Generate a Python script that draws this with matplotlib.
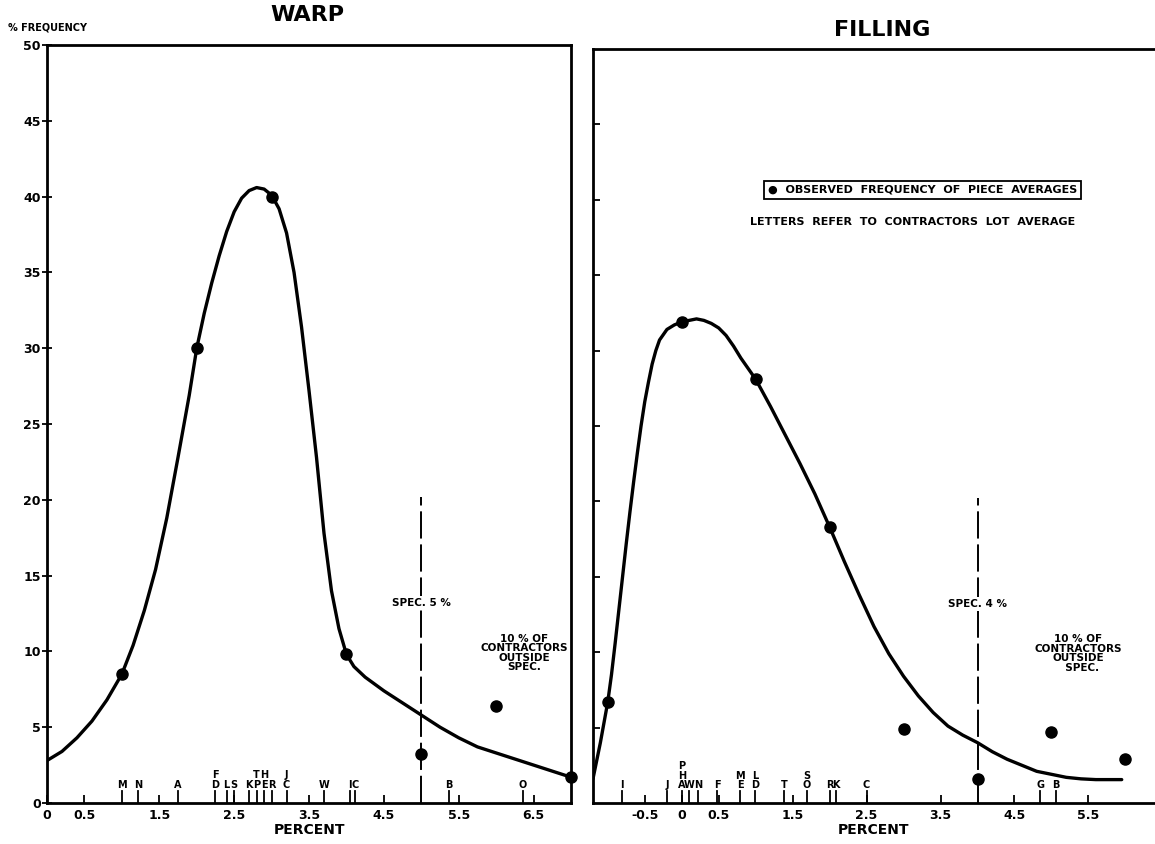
import matplotlib
matplotlib.use("Agg")
import matplotlib.pyplot as plt

# observed frequency of piece averages (dots)
warp_x = [1, 2, 3, 4, 5, 6, 7]
warp_freq = [8.5, 30.0, 40.0, 9.8, 3.2, 6.4, 1.7]
fill_x = [-1, 0, 1, 2, 3, 4, 5, 6]
fill_freq = [6.7, 31.9, 28.1, 18.3, 4.9, 1.6, 4.7, 2.9]

# hand-drawn fitted curves
warp_curve_x = [0, 0.2, 0.4, 0.6, 0.8, 1.0, 1.15, 1.3, 1.45, 1.6, 1.75, 1.9, 2.0, 2.1,
                2.2, 2.3, 2.4, 2.5, 2.6, 2.7, 2.8, 2.9, 3.0, 3.1, 3.2, 3.3, 3.4, 3.5,
                3.6, 3.7, 3.8, 3.9, 4.0, 4.1, 4.25, 4.5, 4.75, 5.0, 5.25, 5.5, 5.75,
                6.0, 6.25, 6.5, 6.75, 7.0]
warp_curve_y = [2.8, 3.4, 4.3, 5.4, 6.8, 8.5, 10.4, 12.7, 15.4, 18.8, 22.8, 26.9, 30.0, 32.3,
                34.3, 36.1, 37.7, 39.0, 39.9, 40.4, 40.6, 40.5, 40.1, 39.2, 37.6, 35.0, 31.4, 27.2,
                22.8, 17.8, 14.0, 11.5, 9.8, 9.0, 8.3, 7.4, 6.6, 5.8, 5.0, 4.3, 3.7,
                3.3, 2.9, 2.5, 2.1, 1.7]
fill_curve_x = [-1.2, -1.1, -1.0, -0.95, -0.9, -0.85, -0.8, -0.75, -0.7, -0.65, -0.6,
                -0.55, -0.5, -0.45, -0.4, -0.35, -0.3, -0.2, -0.1, 0.0, 0.1, 0.2, 0.3,
                0.4, 0.5, 0.6, 0.7, 0.8, 0.9, 1.0, 1.1, 1.2, 1.4, 1.6, 1.8, 2.0, 2.2,
                2.4, 2.6, 2.8, 3.0, 3.2, 3.4, 3.6, 3.8, 4.0, 4.2, 4.4, 4.6, 4.8, 5.0,
                5.2, 5.4, 5.6, 5.8, 5.95]
fill_curve_y = [1.6, 4.0, 6.7, 8.5, 10.6, 12.8, 15.0, 17.2, 19.3, 21.3, 23.2,
                25.0, 26.6, 27.9, 29.1, 30.0, 30.7, 31.4, 31.7, 31.9, 32.0, 32.1, 32.0,
                31.8, 31.5, 31.0, 30.3, 29.5, 28.8, 28.1, 27.2, 26.3, 24.4, 22.5, 20.5, 18.3, 16.0,
                13.8, 11.7, 9.9, 8.4, 7.1, 6.0, 5.1, 4.5, 4.0, 3.4, 2.9, 2.5, 2.1, 1.9,
                1.7, 1.6, 1.55, 1.55, 1.55]

# contractors lot averages (letters)
warp_lots = ["M", "N", "A", "F\nD", "L", "S", "K", "T\nP", "H\nE", "R", "J\nC",
             "W", "I", "C", "B", "O"]
warp_lot_x = [1.0, 1.22, 1.75, 2.25, 2.4, 2.5, 2.7, 2.8, 2.9, 3.0, 3.2,
              3.7, 4.05, 4.12, 5.37, 6.36]
fill_lots = ["I", "J", "P\nH\nA", "W", "N", "F", "M\nE", "L\nD", "T", "S\nO", "R", "K",
             "C", "G", "B"]
fill_lot_x = [-0.81, -0.2, 0.0, 0.1, 0.22, 0.48, 0.79, 0.99, 1.38, 1.69, 2.0, 2.08,
              2.5, 4.85, 5.06]

warp_ticks = [0, 0.5, 1.5, 2.5, 3.5, 4.5, 5.5, 6.5]
warp_ticklabels = ["0", "0.5", "1.5", "2.5", "3.5", "4.5", "5.5", "6.5"]
fill_ticks = [-0.5, 0, 0.5, 1.5, 2.5, 3.5, 4.5, 5.5]
fill_ticklabels = ["-0.5", "0", "0.5", "1.5", "2.5", "3.5", "4.5", "5.5"]
yticks = [0, 5, 10, 15, 20, 25, 30, 35, 40, 45, 50]

fig = plt.figure(figsize=(11.55, 8.44), dpi=100)
ax1 = fig.add_axes([0.0407, 0.0486, 0.4537, 0.898])
ax2 = fig.add_axes([0.5134, 0.0486, 0.4866, 0.8934])


def draw_panel(ax, cx, cy, px, py, lots, lot_x, spec, xlim):
    ax.plot(cx, cy, color="black", lw=2.4, solid_capstyle="round", solid_joinstyle="round")
    ax.plot(px, py, "o", color="black", ms=8, clip_on=False, zorder=5)
    for lab, x in zip(lots, lot_x):
        ax.plot([x, x], [0, 0.8], color="black", lw=1.3)
        ax.text(x, 0.85, lab, ha="center", va="bottom", fontsize=7, fontweight="bold",
                linespacing=0.95)
    ax.plot([spec, spec], [0, 20.2], color="black", lw=1.4, ls=(0, (14, 3)))
    ax.text(spec, 13.2, "SPEC. %d %%" % (spec,), ha="center", va="center", fontsize=7.5,
            fontweight="bold",
            bbox=dict(facecolor="white", edgecolor="none", pad=1.5))
    ax.set_xlim(*xlim)
    ax.set_ylim(0, 50)
    ax.set_xlabel("PERCENT", fontsize=10, fontweight="bold", labelpad=1)
    for s in ax.spines.values():
        s.set_linewidth(2)


draw_panel(ax1, warp_curve_x, warp_curve_y, warp_x, warp_freq, warp_lots, warp_lot_x,
           5, (0, 7.0))
draw_panel(ax2, fill_curve_x, fill_curve_y, fill_x, fill_freq, fill_lots, fill_lot_x,
           4, (-1.2, 6.4))

ax1.text(6.37, 9.9, "10 % OF\nCONTRACTORS\nOUTSIDE\nSPEC.", ha="center", va="center",
         fontsize=7.5, fontweight="bold", linespacing=0.95)
ax2.text(5.36, 9.9, "10 % OF\nCONTRACTORS\nOUTSIDE\n  SPEC.", ha="center", va="center",
         fontsize=7.5, fontweight="bold", linespacing=0.95)

ax1.set_xticks(warp_ticks)
ax1.set_xticklabels(warp_ticklabels)
ax1.set_yticks(yticks)
ax1.set_yticklabels([str(v) for v in yticks])
ax1.tick_params(axis="x", direction="in", length=6, width=1.3, pad=4)
ax1.tick_params(axis="y", direction="inout", length=7, width=1.3, pad=1)
ax1.tick_params(top=False, right=False)
for t in ax1.get_xticklabels() + ax1.get_yticklabels():
    t.set_fontweight("bold")
    t.set_fontsize(9)

ax2.set_xticks(fill_ticks)
ax2.set_xticklabels(fill_ticklabels)
ax2.set_yticks(yticks[1:-1])
ax2.set_yticklabels([])
ax2.tick_params(axis="x", direction="in", length=6, width=1.3, pad=4)
ax2.tick_params(axis="y", direction="in", length=5, width=1.3)
ax2.spines["right"].set_visible(False)
for t in ax2.get_xticklabels():
    t.set_fontweight("bold")
    t.set_fontsize(9)

ax2.text(0.587, 0.813, "\u25CF  OBSERVED  FREQUENCY  OF  PIECE  AVERAGES",
         transform=ax2.transAxes, ha="center", va="center", fontsize=8,
         fontweight="bold",
         bbox=dict(boxstyle="square,pad=0.35", facecolor="white", edgecolor="black", lw=1.3))
ax2.text(0.568, 0.771, "LETTERS  REFER  TO  CONTRACTORS  LOT  AVERAGE",
         transform=ax2.transAxes, ha="center", va="center", fontsize=8,
         fontweight="bold")

fig.text(0.266, 0.982, "WARP", ha="center", va="center", fontsize=16, fontweight="bold")
fig.text(0.764, 0.965, "FILLING", ha="center", va="center", fontsize=16, fontweight="bold")
fig.text(0.007, 0.968, "% FREQUENCY", ha="left", va="center", fontsize=7,
         fontweight="bold")

fig.savefig("out.png", dpi=100)
